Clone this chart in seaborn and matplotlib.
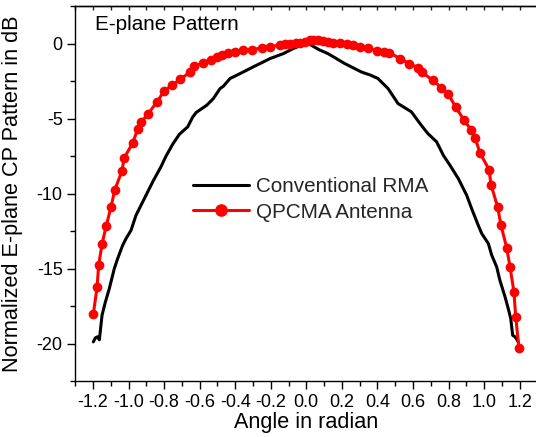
import pandas as pd
import seaborn as sns
import matplotlib
import matplotlib.pyplot as plt
from matplotlib.ticker import MultipleLocator, FormatStrFormatter
matplotlib.use('Agg')

sns.set_theme(style="ticks")
plt.rcParams['font.family'] = ['Liberation Sans', 'DejaVu Sans']

# QPCMA antenna (red, with markers)
red_x = [-1.198, -1.177, -1.168, -1.149, -1.126, -1.098, -1.078, -1.037, -1.025, -0.976,
         -0.948, -0.928, -0.890, -0.840, -0.799, -0.755, -0.709, -0.652, -0.630, -0.579,
         -0.538, -0.505, -0.476, -0.440, -0.401, -0.354, -0.307, -0.251, -0.204, -0.148,
         -0.120, -0.092, -0.060, -0.035, -0.010, 0.021, 0.038, 0.066, 0.096, 0.122,
         0.152, 0.190, 0.227, 0.265, 0.302, 0.349, 0.396, 0.437, 0.467, 0.527,
         0.579, 0.630, 0.649, 0.711, 0.758, 0.799, 0.840, 0.887, 0.926, 0.949,
         0.977, 1.028, 1.039, 1.076, 1.095, 1.127, 1.146, 1.168, 1.178, 1.196]
red_y = [-18.02, -16.25, -14.78, -13.35, -12.18, -10.87, -9.78, -8.49, -7.63, -6.62,
         -5.67, -5.22, -4.69, -3.89, -3.15, -2.78, -2.38, -1.89, -1.51, -1.29,
         -1.07, -0.90, -0.73, -0.65, -0.55, -0.45, -0.40, -0.29, -0.20, -0.11,
         -0.05, 0.00, 0.03, 0.07, 0.10, 0.22, 0.22, 0.27, 0.15, 0.10,
         0.05, 0.02, 0.00, -0.10, -0.22, -0.27, -0.51, -0.57, -0.60, -1.00,
         -1.33, -1.62, -1.89, -2.45, -2.93, -3.38, -4.22, -5.11, -5.73, -6.27,
         -7.29, -8.40, -9.40, -10.89, -12.11, -13.60, -14.89, -16.55, -18.22, -20.27]

# conventional RMA (black line)
blk_x = [-1.198, -1.186, -1.175, -1.164, -1.149, -1.130, -1.108, -1.080, -1.061, -1.033,
         -1.014, -0.986, -0.958, -0.920, -0.864, -0.817, -0.789, -0.751, -0.714, -0.667,
         -0.639, -0.620, -0.560, -0.523, -0.485, -0.467, -0.429, -0.391, -0.354, -0.298,
         -0.260, -0.204, -0.129, -0.073, -0.028, -0.010, 0.010, 0.028, 0.070, 0.122,
         0.216, 0.309, 0.360, 0.403, 0.460, 0.516, 0.591, 0.647, 0.684, 0.733,
         0.771, 0.808, 0.855, 0.902, 0.930, 0.967, 0.987, 1.024, 1.043, 1.071,
         1.089, 1.118, 1.136, 1.150, 1.161, 1.174, 1.183, 1.192]
blk_y = [-19.89, -19.62, -19.55, -19.75, -18.11, -17.22, -16.33, -15.00, -14.33, -13.45,
         -13.00, -12.45, -11.45, -10.55, -9.22, -8.20, -7.50, -6.70, -6.05, -5.55,
         -4.90, -4.60, -4.11, -3.67, -3.00, -2.85, -2.33, -2.11, -1.89, -1.55,
         -1.33, -1.00, -0.67, -0.33, -0.11, 0.00, 0.11, -0.11, -0.40, -0.67,
         -1.33, -1.89, -2.10, -2.33, -3.00, -4.00, -4.55, -5.45, -6.00, -6.55,
         -7.45, -8.11, -9.00, -10.11, -11.00, -12.11, -12.67, -13.33, -14.11, -14.89,
         -15.78, -16.89, -17.67, -18.33, -19.45, -19.55, -19.70, -19.89]

fig = plt.figure(figsize=(5.36, 4.37), dpi=100)
ax = fig.add_axes([0.1403, 0.1281, 0.8623, 0.858])

blk_df = pd.DataFrame({'angle': blk_x, 'db': blk_y})
red_df = pd.DataFrame({'angle': red_x, 'db': red_y})
sns.lineplot(data=blk_df, x='angle', y='db', ax=ax, color='black', linewidth=2.2,
             sort=False, estimator=None, label='Conventional RMA')
sns.lineplot(data=red_df, x='angle', y='db', ax=ax, color='#ff0000', linewidth=2.2,
             marker='o', markersize=7, markeredgewidth=0, sort=False, estimator=None,
             label='QPCMA Antenna')

ax.set_xlim(-1.3, 1.3)
ax.set_ylim(-22.5, 2.5)
ax.xaxis.set_major_locator(MultipleLocator(0.2))
ax.xaxis.set_minor_locator(MultipleLocator(0.1))
ax.xaxis.set_major_formatter(FormatStrFormatter('%.1f'))
ax.yaxis.set_major_locator(MultipleLocator(5))
ax.yaxis.set_minor_locator(MultipleLocator(2.5))
ax.yaxis.set_major_formatter(FormatStrFormatter('%d'))

for s in ax.spines.values():
    s.set_linewidth(1.0)
    s.set_color('black')
ax.tick_params(which='major', direction='out', length=6, width=1, colors='black',
               labelsize=13, pad=3)
ax.tick_params(which='minor', direction='out', length=3.5, width=1, colors='black')

top = ax.secondary_xaxis('top')
top.xaxis.set_major_locator(MultipleLocator(0.2))
top.xaxis.set_minor_locator(MultipleLocator(0.1))
top.tick_params(which='both', direction='in', length=3, width=1, labeltop=False)
top.spines['top'].set_linewidth(1.0)

ax.set_xlabel('Angle in radian', fontsize=15.6, color='black')
ax.set_ylabel('Normalized E-plane CP Pattern in dB', fontsize=15.6, color='black')
ax.xaxis.set_label_coords(0.5, -0.083)
ax.yaxis.set_label_coords(-0.112, 0.5)

ax.text(0.0428, 0.936, 'E-plane Pattern', transform=ax.transAxes, fontsize=14.9,
        va='baseline', ha='left', color='black')

leg = ax.legend(loc='center left', bbox_to_anchor=(193 / 536, 1 - 199.5 / 437),
                bbox_transform=fig.transFigure, frameon=False, fontsize=14.9,
                handlelength=2.7, handletextpad=0.33, labelspacing=0.3,
                borderpad=0, borderaxespad=0, numpoints=1, markerscale=1.3)

fig.savefig('out.png', dpi=100)
